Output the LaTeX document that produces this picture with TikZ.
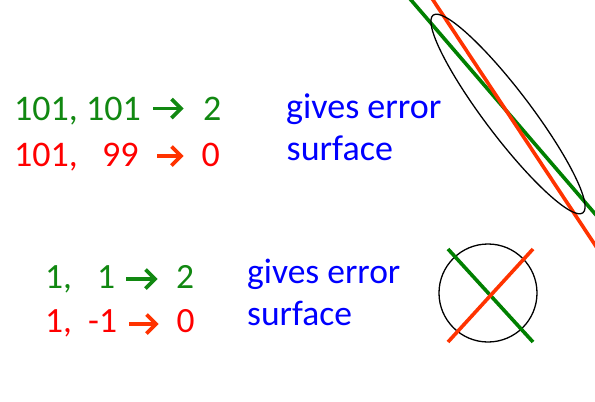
\documentclass[tikz,border=0pt]{standalone}
\usepackage{fontspec}
\setmainfont{Carlito}
\definecolor{tgreen}{RGB}{17,136,17}
\definecolor{lgreen}{RGB}{0,128,0}
\definecolor{tred}{RGB}{255,0,0}
\definecolor{lred}{RGB}{255,51,0}
\definecolor{tblue}{RGB}{0,0,255}
\newcommand{\chevarrow}[4]{%
  \draw[#1, line width=3.8pt, line cap=butt] (#2,#4) -- (#3-3,#4);
  \draw[#1, line width=3.8pt, line join=miter] (#3-12.5,#4-9.5) -- (#3-3,#4) -- (#3-12.5,#4+9.5);}
\begin{document}
\begin{tikzpicture}[x=1pt,y=-1pt,
  txt/.style={anchor=base west, inner sep=0pt, font=\fontsize{36}{36}\selectfont},
  txts/.style={anchor=base west, inner sep=0pt, font=\fontsize{35.5}{35.5}\selectfont},
  colline/.style={line width=3.6pt},
  thinline/.style={draw=black, line width=1.3pt}]
\fill[white] (0,0) rectangle (595,402);
\useasboundingbox (0,0) rectangle (595,402);

% upper block
\node[txt, text=tgreen] (g1) at (14,120) {101, 101};
\chevarrow{tgreen}{153}{184}{108.5}
\node[txt, text=tgreen] (g1r) at (203,120) {2};
\node[txt, text=tred] (r1) at (14,166.5) {101,};
\node[txt, text=tred] (r1b) at (102,166.5) {99};
\chevarrow{lred}{157}{184}{156}
\node[txt, text=tred] (r1r) at (201.5,166.5) {0};
\node[txt, text=tblue] (b1) at (286,118) {gives error};
\node[txt, text=tblue] (b2) at (286.5,160) {surface};

% lower block
\node[txts, text=tgreen] (g2) at (45,288) {1,};
\node[txts, text=tgreen] (g2b) at (97,288) {1};
\chevarrow{tgreen}{126}{158}{279}
\node[txts, text=tgreen] (g2r) at (176,288) {2};
\node[txts, text=tred] (r2) at (45,332) {1,};
\node[txts, text=tred] (r2b) at (88,332) {-1};
\chevarrow{lred}{129}{159}{324}
\node[txts, text=tred] (r2r) at (176.5,332) {0};
\node[txts, text=tblue] (b3) at (247,283) {gives error};
\node[txts, text=tblue] (b4) at (247,325) {surface};

% top-right error surface
\begin{scope}
\clip (0,0) rectangle (595,402);
\draw[colline, lgreen] (402.4,-10) -- (605,225.4);
\draw[colline, lred] (426.4,-10) -- (605,260);
\draw[thinline, rotate around={-52.85:(508,114)}] (508,114) ellipse [x radius=124, y radius=23];
\end{scope}

% lower-right error surface
\draw[thinline] (488,293) circle [radius=49];
\draw[colline, lgreen] (448,249) -- (533,342);
\draw[colline, lred] (448,342) -- (533,249);
\end{tikzpicture}
\end{document}
